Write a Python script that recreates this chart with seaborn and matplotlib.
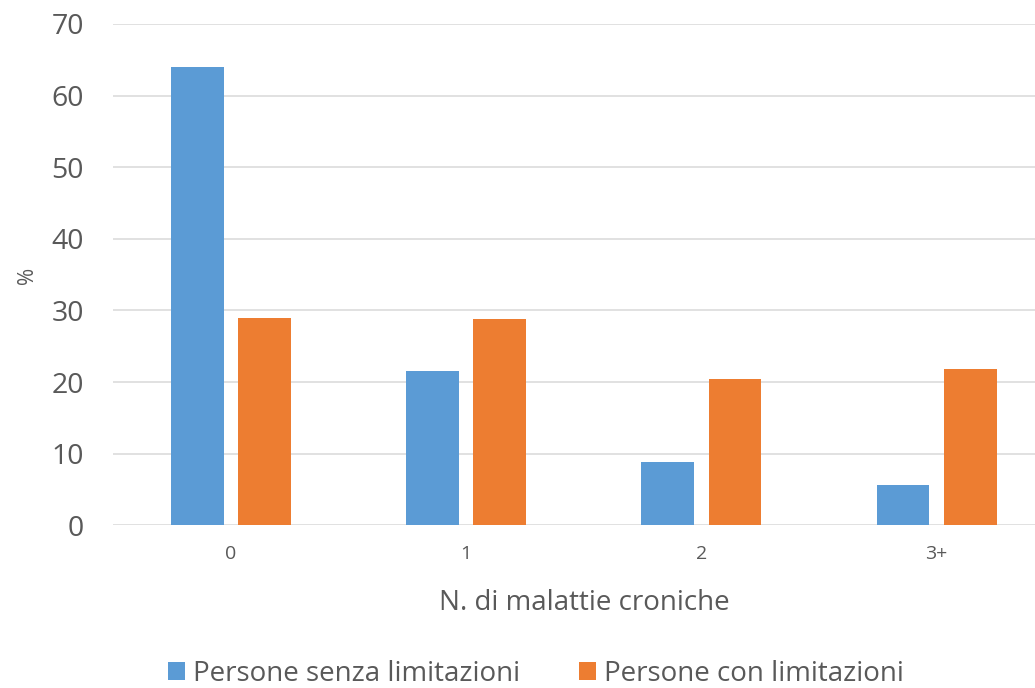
import matplotlib
matplotlib.use("Agg")
import matplotlib.pyplot as plt
import seaborn as sns
import pandas as pd

# Chart data
categories = ["0", "1", "2", "3+"]
senza_limitazioni = [64.0, 21.6, 8.9, 5.6]
con_limitazioni = [28.9, 28.8, 20.4, 21.8]
series_names = ["Persone senza limitazioni", "Persone con limitazioni"]
y_ticks = [0, 10, 20, 30, 40, 50, 60, 70]

df = pd.DataFrame({
    "cat": categories * 2,
    "val": senza_limitazioni + con_limitazioni,
    "serie": [series_names[0]] * len(categories) + [series_names[1]] * len(categories),
})

sns.set_theme(style="white")
plt.rcParams["font.family"] = ["Open Sans", "DejaVu Sans"]
text_color = "#595959"
grid_color = "#D9D9D9"
palette = {series_names[0]: "#5B9BD5", series_names[1]: "#ED7D31"}

fig = plt.figure(figsize=(10.35, 6.88), dpi=100)
ax = fig.add_axes([113.3 / 1035, 1 - 525.3 / 688, 1 - 113.3 / 1035, (525.3 - 24) / 688])

sns.barplot(data=df, x="cat", y="val", hue="serie", palette=palette,
            width=0.572, gap=0.217, saturation=1, ax=ax, legend=True,
            linewidth=0)

ax.set_ylim(0, 70)
ax.set_xlim(-0.5, 3.418)
ax.set_yticks(y_ticks)
ax.yaxis.grid(True, color=grid_color, linewidth=1.1)
ax.set_axisbelow(True)
for s in ax.spines.values():
    s.set_visible(False)

ax.tick_params(axis="y", length=0, pad=21, labelsize=20.5, labelcolor=text_color)
ax.tick_params(axis="x", length=0, pad=14, labelsize=14, labelcolor=text_color)

ax.set_xlabel("N. di malattie croniche", fontsize=20, color=text_color)
ax.xaxis.set_label_coords((584 - 113.3) / (1035 - 113.3), -(589 - 525.3) / (525.3 - 24))
ax.set_ylabel("%", fontsize=15, color=text_color)
ax.yaxis.set_label_coords(-(113.3 - 38) / (1035 - 113.3), (525.3 - 275) / (525.3 - 24))

handles, labels = ax.get_legend_handles_labels()
ax.legend_.remove()
fig.legend(handles, labels, loc="center", bbox_to_anchor=(536 / 1035, 1 - 674 / 688),
           ncol=2, frameon=False, fontsize=20, labelcolor=text_color,
           handlelength=0.62, handleheight=0.62, handletextpad=0.3, columnspacing=2.1,
           borderpad=0.1)

fig.savefig("out.png", dpi=100)
